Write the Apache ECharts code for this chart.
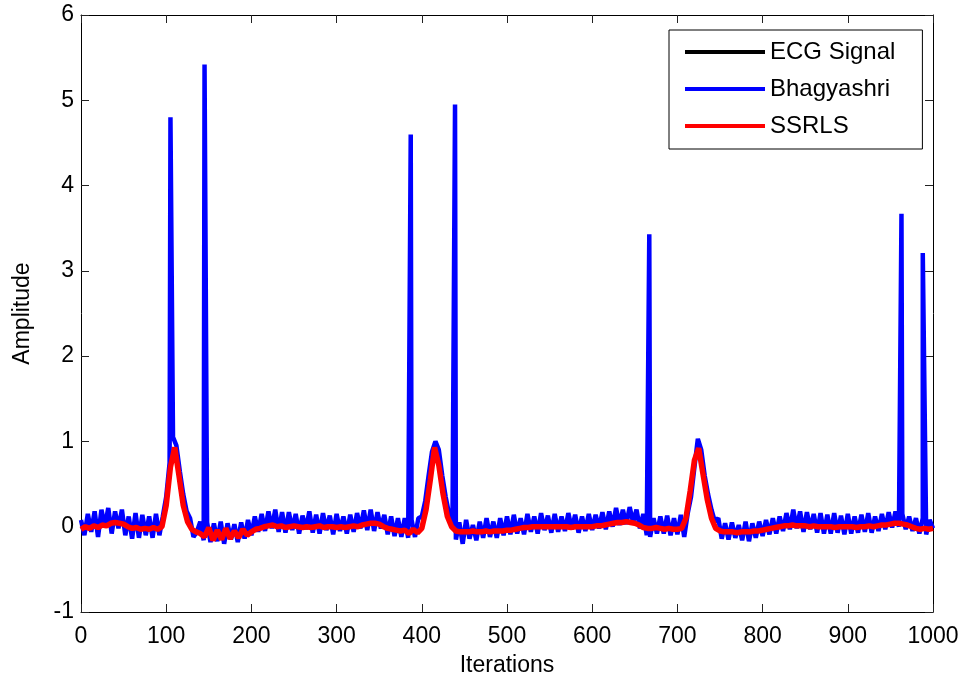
<!DOCTYPE html>
<html>
<head>
<meta charset="utf-8">
<script src="https://cdn.jsdelivr.net/npm/echarts@6/dist/echarts.min.js"></script>
<style>html,body{margin:0;padding:0;background:#fff;}#c{width:963px;height:683px;}</style>
</head>
<body>
<div id="c"></div>
<script>
// x ticks / y ticks
const xTicks = [0,100,200,300,400,500,600,700,800,900,1000];
const yTicks = [-1,0,1,2,3,4,5,6];
const seriesNames = ['ECG Signal','Bhagyashri','SSRLS'];

// ECG Signal (black), sampled every 5 iterations
const ecgStep = 5;
const ecgValues = [
 -0.02,-0.01,-0.01,0.0,0.0,0.01,0.02,0.03,0.04,0.04,
 0.03,0.01,-0.01,-0.02,-0.02,-0.02,-0.02,-0.02,-0.02,0.0,
 0.25,0.7,0.93,0.6,0.25,0.06,-0.03,-0.06,-0.08,-0.09,
 -0.09,-0.09,-0.09,-0.09,-0.08,-0.08,-0.08,-0.08,-0.07,-0.07,
 -0.06,-0.03,-0.02,0.0,0.01,0.01,0.01,0.0,0.0,0.0,
 0.0,0.0,0.0,0.0,0.0,0.0,0.0,0.0,0.0,0.0,
 0.0,0.0,0.0,0.0,0.01,0.01,0.02,0.03,0.04,0.04,
 0.03,0.0,-0.02,-0.03,-0.04,-0.05,-0.05,-0.05,-0.05,-0.05,
 -0.02,0.2,0.55,0.93,0.72,0.38,0.12,0.0,-0.05,-0.06,
 -0.06,-0.06,-0.06,-0.06,-0.06,-0.05,-0.05,-0.05,-0.05,-0.05,
 -0.04,-0.04,-0.03,-0.02,-0.01,-0.01,0.0,0.0,0.0,0.0,
 0.0,0.0,0.0,0.0,0.0,0.0,0.0,0.0,0.0,0.0,
 0.0,0.01,0.01,0.02,0.03,0.04,0.05,0.05,0.05,0.05,
 0.04,0.02,-0.01,-0.02,-0.02,-0.02,-0.02,-0.02,-0.02,-0.02,
 -0.03,-0.02,0.1,0.42,0.78,0.92,0.62,0.32,0.1,-0.02,
 -0.05,-0.06,-0.06,-0.06,-0.06,-0.06,-0.06,-0.06,-0.05,-0.05,
 -0.04,-0.03,-0.02,-0.01,0.0,0.01,0.01,0.01,0.01,0.01,
 0.01,0.01,0.0,0.0,0.0,0.0,0.0,0.0,0.0,0.0,
 0.0,0.0,0.0,0.0,0.0,0.01,0.01,0.01,0.02,0.02,
 0.03,0.04,0.04,0.03,0.02,0.0,-0.02,-0.02,-0.02,-0.02,
 -0.02
];

// Bhagyashri (blue), sampled every 4 iterations
const blueStep = 4;
const blueValues = [
 0.08,-0.10,0.15,-0.06,0.18,-0.12,0.20,0.00,0.22,-0.08,
 0.18,-0.02,0.20,-0.10,0.12,-0.14,0.16,-0.13,0.14,-0.10,
 0.12,-0.13,0.15,-0.10,0.12,0.35,0.75,1.05,0.95,0.65,
 0.38,0.18,0.10,-0.12,-0.06,0.06,-0.16,0.05,-0.18,0.04,
 -0.17,0.06,-0.20,0.04,-0.15,0.03,-0.18,0.05,-0.14,0.08,
 -0.10,0.12,-0.06,0.15,-0.05,0.18,-0.02,0.20,-0.06,0.17,
 -0.07,0.17,-0.04,0.15,-0.08,0.13,-0.03,0.18,-0.07,0.14,
 -0.08,0.16,-0.04,0.13,-0.09,0.15,-0.05,0.12,-0.08,0.14,
 -0.06,0.16,-0.02,0.19,-0.04,0.20,-0.05,0.17,-0.02,0.14,
 -0.09,0.12,-0.11,0.10,-0.12,0.10,-0.13,0.08,-0.12,0.10,
 0.12,0.30,0.60,0.88,1.00,0.90,0.60,0.35,0.15,0.02,
 -0.15,0.05,-0.20,0.08,-0.14,0.02,-0.16,0.06,-0.13,0.10,
 -0.12,0.06,-0.13,0.10,-0.10,0.12,-0.09,0.14,-0.08,0.10,
 -0.09,0.15,-0.06,0.12,-0.08,0.16,-0.04,0.13,-0.07,0.15,
 -0.06,0.12,-0.05,0.16,-0.03,0.14,-0.07,0.12,-0.05,0.15,
 -0.04,0.14,-0.02,0.17,-0.03,0.18,0.00,0.22,0.02,0.20,
 0.03,0.23,0.05,0.20,-0.02,0.15,-0.10,-0.12,0.10,-0.08,
 0.12,-0.08,0.13,-0.10,0.10,-0.09,0.14,-0.12,0.15,0.35,
 0.70,1.03,0.90,0.60,0.38,0.20,0.06,0.10,-0.14,0.04,
 -0.15,0.05,-0.13,0.02,-0.16,0.06,-0.17,0.04,-0.13,0.06,
 -0.11,0.08,-0.09,0.10,-0.08,0.12,-0.05,0.16,-0.03,0.20,
 -0.02,0.18,-0.06,0.17,-0.03,0.15,-0.07,0.16,-0.08,0.14,
 -0.08,0.16,-0.07,0.13,-0.09,0.15,-0.08,0.12,-0.07,0.14,
 -0.06,0.16,-0.07,0.12,-0.05,0.15,-0.03,0.17,-0.01,0.18,
 0.00,0.15,-0.03,0.12,-0.05,0.10,-0.08,0.10,-0.09,0.08,
 -0.02
];
// Bhagyashri impulse spikes [iteration, amplitude]
const blueSpikes = [[105,4.8],[145,5.42],[387,4.6],[439,4.95],[667,3.43],[963,3.67],[988,3.21]];

// SSRLS (red), sampled every 5 iterations
const redStep = 5;
const redValues = [
 -0.03,0.0,-0.02,0.01,-0.01,0.02,0.01,0.04,0.05,0.04,
 0.03,0.0,-0.02,-0.01,-0.03,-0.02,-0.03,-0.01,-0.03,0.0,
 0.25,0.7,0.93,0.6,0.25,0.06,-0.03,-0.06,-0.08,-0.12,
 -0.01,-0.16,-0.04,-0.15,-0.02,-0.14,-0.05,-0.13,-0.03,-0.1,
 -0.06,-0.03,-0.02,0.0,0.01,0.02,0.0,0.01,-0.01,0.0,
 0.01,0.0,-0.01,0.0,-0.01,0.0,0.01,-0.01,0.0,0.0,
 -0.01,0.0,-0.01,0.0,0.01,0.0,0.02,0.03,0.04,0.04,
 0.03,0.0,-0.02,-0.03,-0.04,-0.05,-0.04,-0.08,-0.03,-0.07,
 -0.02,0.2,0.55,0.93,0.72,0.38,0.12,0.0,-0.05,-0.06,
 -0.06,-0.06,-0.05,-0.06,-0.06,-0.05,-0.06,-0.05,-0.05,-0.05,
 -0.04,-0.04,-0.03,-0.02,-0.01,-0.01,0.0,0.0,0.0,0.0,
 0.0,0.0,0.0,0.0,0.0,-0.01,0.0,0.0,0.0,0.0,
 0.0,0.01,0.01,0.02,0.03,0.04,0.05,0.05,0.06,0.05,
 0.04,0.02,-0.01,-0.02,-0.02,-0.01,-0.02,-0.03,-0.02,-0.03,
 -0.03,-0.02,0.1,0.42,0.78,0.92,0.62,0.32,0.1,-0.02,
 -0.05,-0.06,-0.06,-0.06,-0.07,-0.06,-0.06,-0.06,-0.05,-0.05,
 -0.04,-0.03,-0.02,-0.01,0.0,0.01,0.01,0.02,0.01,0.01,
 0.01,0.0,0.01,0.0,0.0,0.0,0.0,-0.01,0.0,0.0,
 0.0,0.0,-0.01,0.0,0.0,0.01,0.0,0.01,0.02,0.02,
 0.03,0.04,0.04,0.03,0.02,0.0,-0.02,-0.03,-0.02,-0.03,
 -0.02
];

function toPairs(values, step){ return values.map((v,i)=>[i*step, v]); }
const ecgData = toPairs(ecgValues, ecgStep);
const blueData = toPairs(blueValues, blueStep).concat(blueSpikes).sort((a,b)=>a[0]-b[0]);
const redData = toPairs(redValues, redStep);

const FONT = 'Liberation Sans, Arial, sans-serif';
const chart = echarts.init(document.getElementById('c'), null, {renderer:'canvas'});
const axisCommon = {
  axisLine:{show:true, onZero:false, lineStyle:{color:'#000', width:1}},
  axisTick:{show:true, inside:true, length:8, lineStyle:{color:'#222', width:1}},
  splitLine:{show:false}
};
chart.setOption({
  animation:false,
  backgroundColor:'#fff',
  grid:{left:81, top:15, width:852, height:597, containLabel:false},
  legend:{
    orient:'vertical', left:669, top:30,
    data:seriesNames,
    icon:'rect',
    itemWidth:80, itemHeight:4, itemGap:13,
    padding:[10,27,11,16],
    backgroundColor:'#fff', borderColor:'#000', borderWidth:1, borderRadius:0,
    textStyle:{fontFamily:FONT, fontSize:24, color:'#000', lineHeight:24},
    selectedMode:false
  },
  xAxis:[
    Object.assign({type:'value', position:'bottom', min:xTicks[0], max:xTicks[xTicks.length-1], interval:100,
      name:'Iterations', nameLocation:'middle', nameGap:42,
      nameTextStyle:{fontFamily:FONT, fontSize:23, color:'#000'},
      axisLabel:{fontFamily:FONT, fontSize:23, color:'#000', margin:13, formatter:(v)=>String(v)}}, axisCommon),
    Object.assign({type:'value', position:'top', min:xTicks[0], max:xTicks[xTicks.length-1], interval:100,
      axisLabel:{show:false}}, axisCommon)
  ],
  yAxis:[
    Object.assign({type:'value', position:'left', min:yTicks[0], max:yTicks[yTicks.length-1], interval:1,
      name:'Amplitude', nameLocation:'middle', nameGap:47, nameRotate:90,
      nameTextStyle:{fontFamily:FONT, fontSize:23, color:'#000'},
      axisLabel:{fontFamily:FONT, fontSize:23, color:'#000', margin:7, formatter:(v)=>String(v)}}, axisCommon),
    Object.assign({type:'value', position:'right', min:yTicks[0], max:yTicks[yTicks.length-1], interval:1,
      axisLabel:{show:false}}, axisCommon)
  ],
  series:[
    {name:seriesNames[0], type:'line', data:ecgData, symbol:'none', lineStyle:{color:'#000', width:2}, itemStyle:{color:'#000'}, z:2},
    {name:seriesNames[1], type:'line', data:blueData, symbol:'none', lineStyle:{color:'#0000ff', width:4.5}, itemStyle:{color:'#0000ff'}, z:3},
    {name:seriesNames[2], type:'line', data:redData, symbol:'none', lineStyle:{color:'#ff0000', width:5.5}, itemStyle:{color:'#ff0000'}, z:4}
  ]
});
</script>
</body>
</html>
